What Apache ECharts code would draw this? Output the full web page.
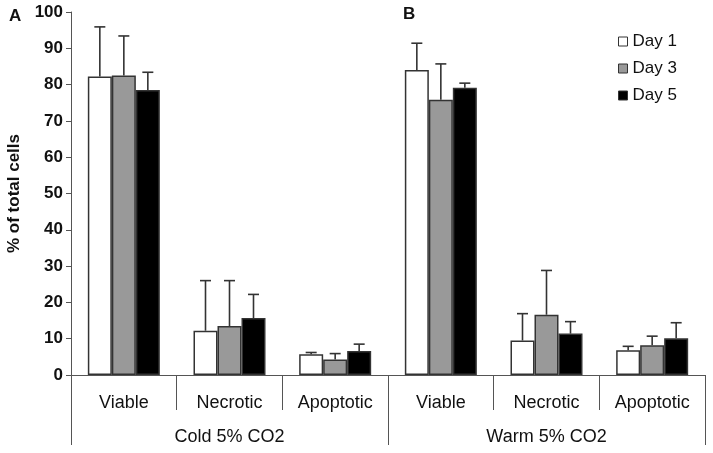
<!DOCTYPE html>
<html>
<head>
<meta charset="utf-8">
<script src="https://cdn.jsdelivr.net/npm/echarts@6/dist/echarts.min.js"></script>
<style>html,body{margin:0;padding:0;background:#fff}#c{width:713px;height:453px}</style>
</head>
<body>
<div id="c"></div>
<script>
// ---- data ----
const categories = ['Viable', 'Necrotic', 'Apoptotic', 'Viable', 'Necrotic', 'Apoptotic'];
const groups = ['Cold 5% CO2', 'Warm 5% CO2'];
const seriesNames = ['Day 1', 'Day 3', 'Day 5'];
const day1 = [82.2, 12.2, 5.7, 84.0, 9.5, 6.8];
const day3 = [82.5, 13.5, 4.3, 75.8, 16.6, 8.2];
const day5 = [78.5, 15.7, 6.6, 79.1, 11.4, 10.1];
const day1Err = [13.7, 13.8, 0.5, 7.4, 7.4, 1.1];
const day3Err = [10.9, 12.5, 1.6, 9.9, 12.2, 2.5];
const day5Err = [4.9, 6.5, 1.9, 1.3, 3.3, 4.3];
const yTicks = [0, 10, 20, 30, 40, 50, 60, 70, 80, 90, 100];

const FONT = "'Liberation Sans', Arial, Helvetica, sans-serif";
const values = [day1, day3, day5];
const errs = [day1Err, day3Err, day5Err];
const fills = ['#ffffff', '#999999', '#000000'];
const BAR_W = 24;

const chart = echarts.init(document.getElementById('c'), null, {renderer: 'canvas'});

const barSeries = seriesNames.map((n, k) => ({
  name: n,
  type: 'bar',
  xAxisIndex: 0,
  barWidth: BAR_W,
  barGap: '0%',
  data: values[k],
  itemStyle: {color: fills[k], borderColor: '#333', borderWidth: 1.5},
  emphasis: {disabled: true},
  z: 2
}));

const errSeries = seriesNames.map((n, k) => ({
  name: n + ' err',
  type: 'custom',
  xAxisIndex: 0,
  z: 3,
  silent: true,
  encode: {x: 0, y: 1},
  data: values[k].map((v, i) => [i, v, errs[k][i]]),
  renderItem: function (params, api) {
    const i = api.value(0), v = api.value(1), e = api.value(2);
    const base = api.coord([i, v]);
    const top = api.coord([i, v + e]);
    const cx = base[0] + (k - 1) * BAR_W;
    const st = {stroke: '#333', lineWidth: 1.6};
    return {
      type: 'group',
      children: [
        {type: 'line', shape: {x1: cx, y1: base[1], x2: cx, y2: top[1]}, style: st},
        {type: 'line', shape: {x1: cx - 5.5, y1: top[1], x2: cx + 5.5, y2: top[1]}, style: st}
      ]
    };
  }
}));

chart.setOption({
  animation: false,
  backgroundColor: '#fff',
  textStyle: {fontFamily: FONT},
  title: [
    {text: 'A', left: 9, top: 8, padding: 0, textStyle: {fontFamily: FONT, fontSize: 17, fontWeight: 'bold', color: '#111'}},
    {text: 'B', left: 403, top: 6, padding: 0, textStyle: {fontFamily: FONT, fontSize: 17, fontWeight: 'bold', color: '#111'}}
  ],
  legend: {
    data: seriesNames,
    orient: 'vertical',
    left: 618,
    top: 33,
    padding: 0,
    icon: 'rect',
    itemWidth: 9,
    itemHeight: 9,
    itemGap: 10,
    itemStyle: {borderColor: '#333', borderWidth: 1},
    textStyle: {fontFamily: FONT, fontSize: 17, color: '#111', lineHeight: 17},
    selectedMode: false
  },
  grid: {left: 71, right: 8, top: 12, bottom: 78, containLabel: false, outerBoundsMode: 'none'},
  xAxis: [
    {
      type: 'category',
      data: categories,
      position: 'bottom',
      axisLine: {show: true, lineStyle: {color: '#555', width: 1}},
      axisTick: {show: true, alignWithLabel: false, length: 35, lineStyle: {color: '#555', width: 1}},
      axisLabel: {margin: 19, fontFamily: FONT, fontSize: 18, color: '#111'},
      splitLine: {show: false}
    },
    {
      type: 'category',
      data: groups,
      position: 'bottom',
      axisLine: {show: false},
      axisTick: {show: true, alignWithLabel: false, length: 70, lineStyle: {color: '#555', width: 1}},
      axisLabel: {margin: 53, fontFamily: FONT, fontSize: 18, color: '#111'},
      splitLine: {show: false}
    }
  ],
  yAxis: {
    type: 'value',
    min: yTicks[0],
    max: yTicks[yTicks.length - 1],
    interval: 10,
    name: '% of total cells',
    nameLocation: 'middle',
    nameGap: 48,
    nameTextStyle: {fontFamily: FONT, fontSize: 17, fontWeight: 'bold', color: '#111'},
    axisLine: {show: true, lineStyle: {color: '#555', width: 1}},
    axisTick: {show: true, length: 5, lineStyle: {color: '#555'}},
    axisLabel: {margin: 8, fontFamily: FONT, fontSize: 17, fontWeight: 'bold', color: '#111'},
    splitLine: {show: false}
  },
  series: barSeries.concat(errSeries)
});
</script>
</body>
</html>
